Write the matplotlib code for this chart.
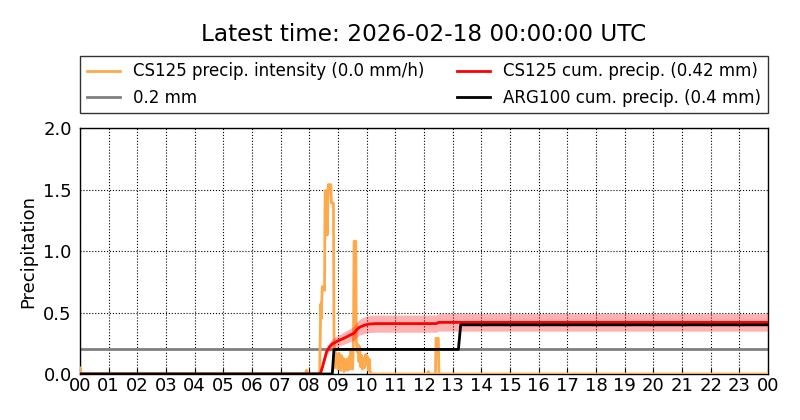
import matplotlib
matplotlib.use("Agg")
import matplotlib.pyplot as plt

# Precipitation intensity CS125 (mm/h), hours since 00 UTC
rate_t = [0.0, 0.02, 0.05, 7.86, 7.90, 7.94, 8.36, 8.38, 8.40, 8.42, 8.43, 8.45,
          8.50, 8.53, 8.55, 8.60, 8.62, 8.64, 8.66, 8.70, 8.75, 8.77, 8.80,
          8.84, 8.86, 8.88, 8.91, 8.94, 8.97, 9.00, 9.03, 9.06, 9.09, 9.12,
          9.15, 9.18, 9.21, 9.24, 9.27, 9.30, 9.33, 9.36, 9.39, 9.42, 9.45,
          9.48, 9.51, 9.54, 9.56, 9.58, 9.62, 9.64, 9.67, 9.70, 9.73, 9.76,
          9.79, 9.82, 9.85, 9.88, 9.91, 9.94, 9.97, 10.00, 10.03, 10.06,
          10.09, 10.12, 10.15, 12.12, 12.15, 12.18, 12.40, 12.42, 12.50,
          12.52, 24.0]
rate_v = [0.05, 0.0, 0.0, 0.0, 0.03, 0.0, 0.0, 0.3, 0.57, 0.45, 0.57, 0.71,
          0.71, 0.68, 1.49, 1.49, 1.13, 1.30, 1.54, 1.54, 1.54, 1.39, 1.39,
          1.39, 0.35, 0.05, 0.18, 0.08, 0.15, 0.04, 0.17, 0.12, 0.03, 0.15,
          0.06, 0.13, 0.02, 0.10, 0.05, 0.12, 0.03, 0.09, 0.14, 0.04, 0.20,
          0.08, 0.04, 0.30, 1.08, 1.08, 1.08, 0.25, 0.18, 0.24, 0.10, 0.22,
          0.06, 0.15, 0.04, 0.13, 0.05, 0.10, 0.16, 0.08, 0.14, 0.03, 0.12,
          0.02, 0.0, 0.0, 0.02, 0.0, 0.0, 0.29, 0.29, 0.0, 0.0]

# Cumulative precipitation (mm)
cs_t = [0.0, 8.38, 8.45, 8.52, 8.60, 8.70, 8.80, 8.85, 9.00, 9.20, 9.45,
        9.55, 9.65, 9.75, 9.90, 10.05, 10.30, 12.42, 12.52, 24.0]
cs_v = [0.0, 0.0, 0.05, 0.11, 0.18, 0.22, 0.245, 0.25, 0.27, 0.29, 0.32,
        0.33, 0.36, 0.38, 0.395, 0.405, 0.41, 0.41, 0.42, 0.42]
cs_rel_err = 0.17

arg_t = [0.0, 8.80, 8.86, 13.20, 13.28, 24.0]
arg_v = [0.0, 0.0, 0.2, 0.2, 0.4, 0.4]

threshold = 0.2
hour_labels = ["%02d" % h for h in range(24)] + ["00"]

plt.rcParams["font.family"] = "DejaVu Sans"

fig = plt.figure(figsize=(8, 4.2), dpi=100)
ax = fig.add_axes([0.1, 0.1095, 0.86, 0.5855])

ax.plot(rate_t, rate_v, color="#ffa94d", lw=2,
        label="CS125 precip. intensity (0.0 mm/h)", zorder=3)
ax.axhline(threshold, color="gray", lw=2, label="0.2 mm", zorder=2)
lo = [v * (1 - cs_rel_err) for v in cs_v]
hi = [v * (1 + cs_rel_err) for v in cs_v]
ax.fill_between(cs_t, lo, hi, color="red", alpha=0.3, lw=0, zorder=4)
ax.plot(cs_t, cs_v, color="red", lw=2,
        label="CS125 cum. precip. (0.42 mm)", zorder=5)
ax.plot(arg_t, arg_v, color="black", lw=2,
        label="ARG100 cum. precip. (0.4 mm)", zorder=6)

ax.set_xlim(0, 24)
ax.set_ylim(0, 2.0)
ax.set_xticks(range(25))
ax.set_xticklabels(hour_labels)
ax.set_yticks([0.0, 0.5, 1.0, 1.5, 2.0])
ax.tick_params(axis="x", direction="in", length=4, labelsize=13, pad=2)
ax.tick_params(axis="y", direction="in", length=0, labelsize=13, pad=6)
ax.grid(True, color="black", linestyle=":", lw=0.8)
ax.set_ylabel("Precipitation", fontsize=13)
for s in ax.spines.values():
    s.set_linewidth(1)

ax.legend(loc="lower left", bbox_to_anchor=(0, 1.06, 1, 0.2), mode="expand",
          ncol=2, fontsize=12, frameon=True, fancybox=False,
          edgecolor="black", borderaxespad=0, handlelength=2.0)

fig.text(0.53, 0.918, "Latest time: 2026-02-18 00:00:00 UTC", fontsize=16.7,
         ha="center", va="center")

fig.savefig("out.png", dpi=100)
